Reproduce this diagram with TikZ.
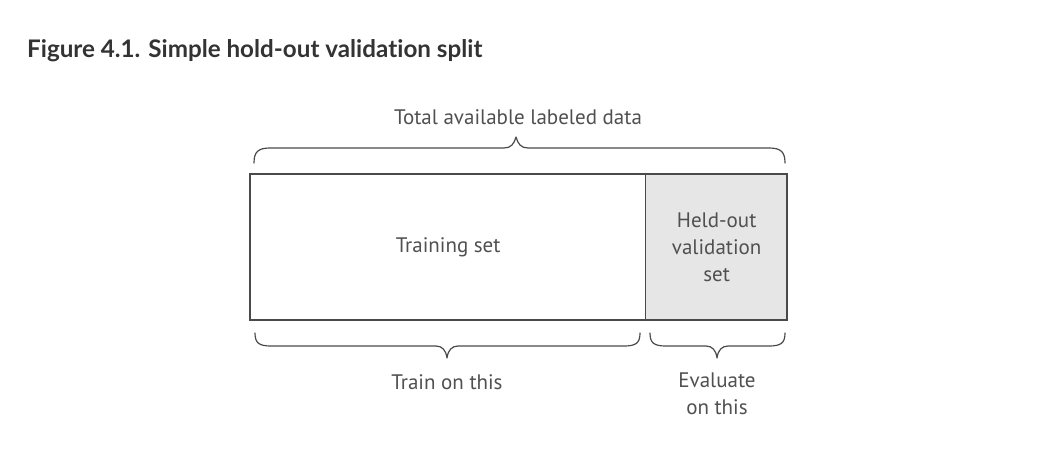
\documentclass[tikz,border=0pt]{standalone}
\usepackage{fontspec}
\setmainfont{PT Sans}
\newfontfamily\titlefont[Ligatures=NoCommon]{Lato}
\definecolor{titlecol}{HTML}{333333}
\definecolor{txtcol}{HTML}{505050}
\definecolor{linecol}{HTML}{4A4A4A}
\definecolor{heldfill}{HTML}{E6E6E6}
\begin{document}
\begin{tikzpicture}[x=1pt,y=-1pt,
  lbl/.style={text=txtcol,font=\fontsize{21}{27}\selectfont,align=center,inner sep=0pt},
  part/.style={draw=linecol,line width=1.3pt,minimum height=146pt,inner sep=0pt},
  bracepath/.style={draw=linecol,line width=1.2pt,line cap=round,line join=round}]
\useasboundingbox (0,0) rectangle (1038,471);
\fill[white] (0,0) rectangle (1038,471);
\node[anchor=base west,inner sep=0pt,text=titlecol,font=\titlefont\bfseries\fontsize{24.2}{28}\selectfont] (title) at (27,57) {Figure 4.1. Simple hold-out valida\kern0pt tion split};
% boxes
\node[part,minimum width=395pt,anchor=north west] (train) at (250,174) {};
\node[part,fill=heldfill,minimum width=142pt,anchor=north west] (held) at (645,174) {};
\draw[linecol,line width=1.3pt] (250,174) rectangle (787,320);
\node[lbl] (traintxt) at (train.center) {Training set};
\node[lbl] (heldtxt) at (held.center) {Held-out\\validation\\set};
% top brace
\coordinate (tl) at (254,163);
\coordinate (tr) at (785,163);
\coordinate (tt) at (516,137);
\path[bracepath] (tl) .. controls (254,152) and (258,148) .. (270,148) -- (504,148)
  .. controls (511,148) and (514,144) .. (tt)
  .. controls (518,144) and (521,148) .. (528,148) -- (769,148)
  .. controls (781,148) and (785,152) .. (tr);
\node[lbl,anchor=base] (total) at (518,124) {Total available labeled data};
% bottom left brace
\coordinate (bl1) at (255,333);
\coordinate (bl2) at (640,333);
\coordinate (blt) at (447,358);
\path[bracepath] (bl1) .. controls (255,343) and (259,346) .. (271,346) -- (436,346)
  .. controls (442,346) and (446,350) .. (blt)
  .. controls (448,350) and (452,346) .. (458,346) -- (624,346)
  .. controls (636,346) and (640,343) .. (bl2);
% bottom right brace
\coordinate (br1) at (650,333);
\coordinate (br2) at (785,333);
\coordinate (brt) at (717,358);
\path[bracepath] (br1) .. controls (650,343) and (654,346) .. (666,346) -- (706,346)
  .. controls (712,346) and (716,350) .. (brt)
  .. controls (718,350) and (722,346) .. (728,346) -- (769,346)
  .. controls (781,346) and (785,343) .. (br2);
\node[lbl,anchor=base] (traintxt2) at (447,389) {Train on this};
\node[lbl,anchor=north] (evaltxt) at (717,373) {Evaluate\\on this};
\end{tikzpicture}
\end{document}
